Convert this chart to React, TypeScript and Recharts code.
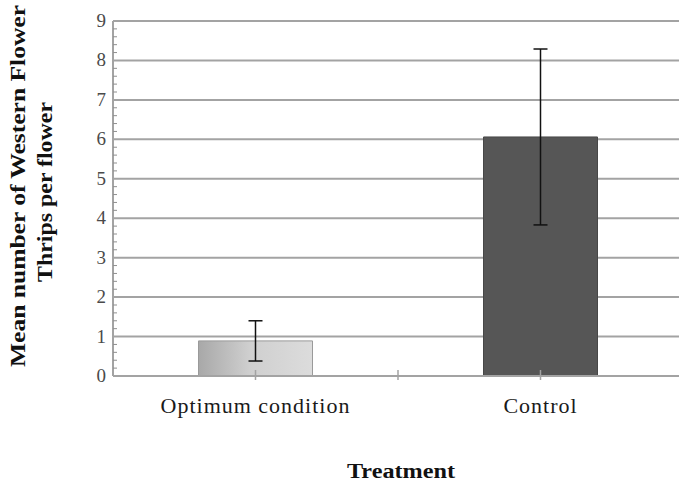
import React from 'react';
import {
  BarChart,
  Bar,
  Cell,
  XAxis,
  YAxis,
  CartesianGrid,
  ErrorBar,
  Label,
} from 'recharts';

// values
const treatments = ['Optimum condition', 'Control'];
const meanThrips = [0.89, 6.06];
const stdErrors = [0.51, 2.23];
const yTicks = [0, 1, 2, 3, 4, 5, 6, 7, 8, 9];

const data = treatments.map((name, i) => ({
  name,
  mean: meanThrips[i],
  err: stdErrors[i],
}));

const BAR_FILLS = ['url(#optimumFill)', '#565656'];
const BAR_STROKES = ['#9a9a9a', '#474747'];
const GRID = '#a3a3a3';
const SERIF = 'Liberation Serif';

const CHART_H = 487;
const TOP = 21;
const X_AXIS_H = 111;
const Y_AXIS_W = 113;
const TICK_GAP = 7;
// five minor divisions between labelled gridlines, as in the Excel original
const MINOR_PER_MAJOR = 5;

const CategoryTick = (props: any) => {
  const { x, y, payload, index } = props;
  const half = payload && payload.offset ? payload.offset : 0;
  return (
    <g>
      <line x1={x} y1={y - 6} x2={x} y2={y + 4} stroke={GRID} strokeWidth={1.5} />
      {index === 0 && half > 0 && (
        <line x1={x + half} y1={y - 6} x2={x + half} y2={y + 4} stroke={GRID} strokeWidth={1.5} />
      )}
      <text
        x={x}
        y={y + 37}
        textAnchor="middle"
        style={{ fontFamily: SERIF, fontSize: 22, letterSpacing: 1 }}
        fill="#1a1a1a"
      >
        {payload.value}
      </text>
    </g>
  );
};

const ValueTick = (props: any) => {
  const { x, y, payload, index } = props;
  const plotH = CHART_H - TOP - X_AXIS_H;
  const step = plotH / (yTicks.length - 1) / MINOR_PER_MAJOR;
  const axisX = x + TICK_GAP;
  const minors = [];
  if (index < yTicks.length - 1) {
    for (let k = 1; k < MINOR_PER_MAJOR; k++) {
      const my = y - k * step;
      minors.push(
        <line key={k} x1={axisX} y1={my} x2={axisX + 4} y2={my} stroke="#8f8f8f" strokeWidth={1} />
      );
    }
  }
  return (
    <g>
      {minors}
      <text
        x={x}
        y={y}
        dy={6}
        textAnchor="end"
        style={{ fontFamily: SERIF, fontSize: 19 }}
        fill="#4a4a4a"
      >
        {payload.value}
      </text>
    </g>
  );
};

const YTitle = () => (
  <g style={{ fontFamily: SERIF, fontWeight: 'bold', fontSize: 20 }} fill="#111">
    <text
      transform="translate(25, 186) rotate(-90)"
      textAnchor="middle"
      textLength={362}
      lengthAdjust="spacingAndGlyphs"
    >
      Mean number of Western Flower
    </text>
    <text
      transform="translate(52, 192) rotate(-90)"
      textAnchor="middle"
      textLength={180}
      lengthAdjust="spacingAndGlyphs"
    >
      Thrips per flower
    </text>
  </g>
);

const XTitle = () => (
  <text
    x={401}
    y={478}
    textAnchor="middle"
    style={{ fontFamily: SERIF, fontWeight: 'bold', fontSize: 20 }}
    fill="#111"
    textLength={108}
    lengthAdjust="spacingAndGlyphs"
  >
    Treatment
  </text>
);

export default function App() {
  return (
    <div
      style={{
        position: 'absolute',
        left: 0,
        top: 0,
        width: 679,
        height: 487,
        overflow: 'hidden',
        background: '#fff',
      }}
    >
      <BarChart
        width={690}
        height={CHART_H}
        data={data}
        margin={{ top: TOP, right: 7, bottom: 0, left: 0 }}
        barCategoryGap="30%"
      >
        <defs>
          <linearGradient id="optimumFill" x1="0" y1="0" x2="1" y2="0">
            <stop offset="0%" stopColor="#a8a8a8" />
            <stop offset="45%" stopColor="#cfcfcf" />
            <stop offset="100%" stopColor="#dcdcdc" />
          </linearGradient>
        </defs>
        <CartesianGrid vertical={false} stroke={GRID} strokeWidth={2} />
        <YAxis
          width={Y_AXIS_W}
          domain={[0, 9]}
          ticks={yTicks}
          interval={0}
          axisLine={{ stroke: GRID, strokeWidth: 2 }}
          tickLine={false}
          tickSize={0}
          tickMargin={TICK_GAP}
          tick={<ValueTick />}
        >
          <Label content={<YTitle />} />
        </YAxis>
        <XAxis
          dataKey="name"
          height={X_AXIS_H}
          axisLine={{ stroke: GRID, strokeWidth: 2 }}
          tickLine={false}
          tickSize={0}
          tickMargin={0}
          interval={0}
          tick={<CategoryTick />}
        >
          <Label content={<XTitle />} />
        </XAxis>
        <Bar dataKey="mean" isAnimationActive={false}>
          {data.map((d, i) => (
            <Cell key={d.name} fill={BAR_FILLS[i]} stroke={BAR_STROKES[i]} strokeWidth={1} />
          ))}
          <ErrorBar dataKey="err" width={7} stroke="#111" strokeWidth={1.5} />
        </Bar>
      </BarChart>
    </div>
  );
}
